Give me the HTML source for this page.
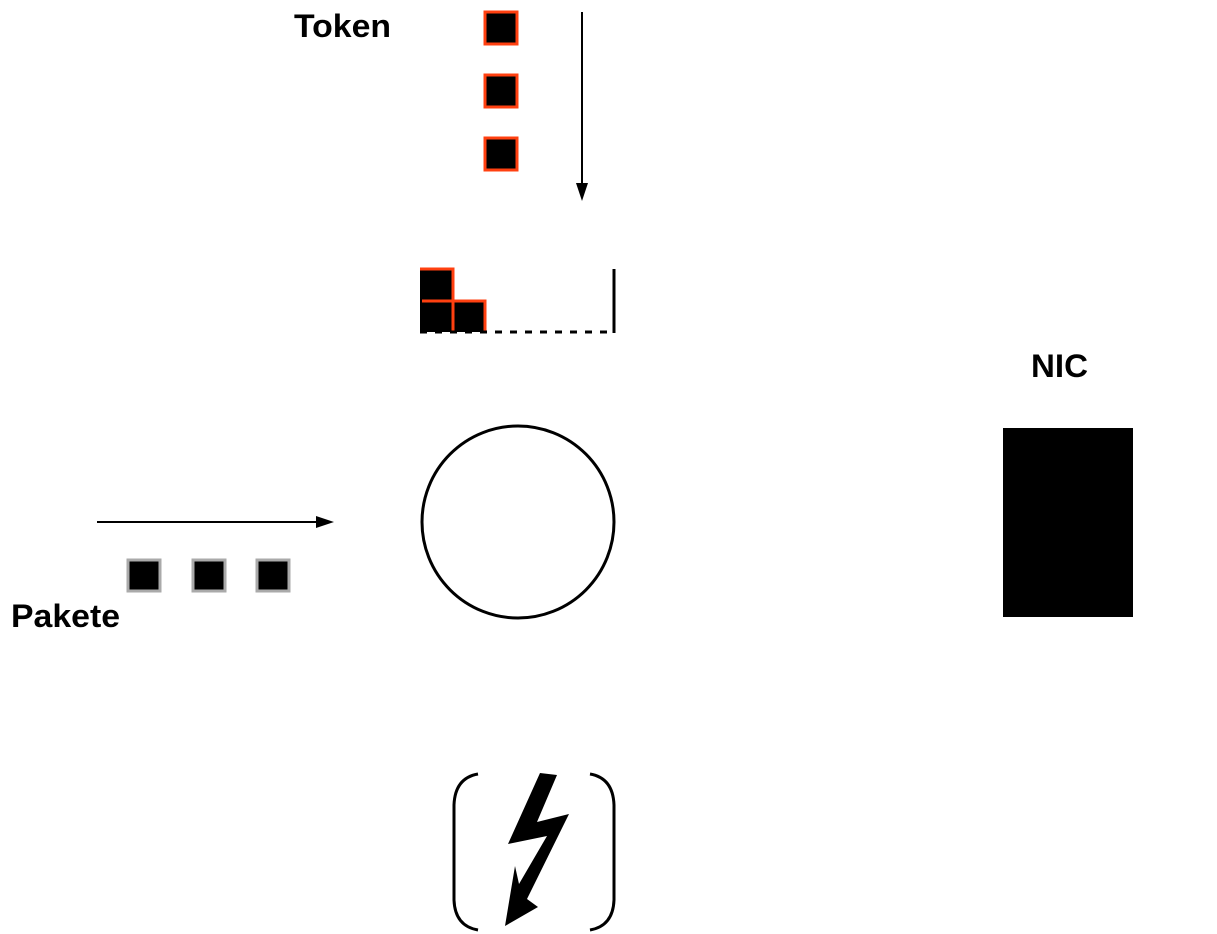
<!DOCTYPE html>
<html><head><meta charset="utf-8"><style>
html,body{margin:0;padding:0;background:#fff;}
svg{display:block;}
text{font-family:"Liberation Sans",sans-serif;font-weight:bold;font-size:32px;fill:#000;}
</style></head><body>
<svg width="1217" height="934" viewBox="0 0 1217 934">
<text x="294" y="37" textLength="97" lengthAdjust="spacingAndGlyphs">Token</text>
<rect x="485" y="12" width="32" height="32" fill="#000" stroke="#ff4010" stroke-width="3"/>
<rect x="485" y="75" width="32" height="32" fill="#000" stroke="#ff4010" stroke-width="3"/>
<rect x="485" y="138" width="32" height="32" fill="#000" stroke="#ff4010" stroke-width="3"/>
<g>
<line x1="582" y1="12" x2="582" y2="186" stroke="#000" stroke-width="2"/>
<polygon points="576,183 588,183 582,201" fill="#000"/>
</g>
<g>
<rect x="420" y="269" width="33" height="63" fill="#000"/>
<rect x="453" y="301" width="32" height="31" fill="#000"/>
<polyline points="420,269 453,269 453,332" fill="none" stroke="#ff4010" stroke-width="3"/>
<polyline points="422,301 485,301 485,332" fill="none" stroke="#ff4010" stroke-width="3"/>
<line x1="420" y1="332" x2="614" y2="332" stroke="#000" stroke-width="3" stroke-dasharray="7,8"/>
<line x1="614" y1="269" x2="614" y2="333" stroke="#000" stroke-width="3"/>
</g>
<circle cx="518" cy="522" r="96" fill="none" stroke="#000" stroke-width="3"/>
<g>
<line x1="97" y1="522" x2="320" y2="522" stroke="#000" stroke-width="2"/>
<polygon points="316,516 316,528 334,522" fill="#000"/>
</g>
<rect x="128" y="560" width="32" height="31" fill="#000" stroke="#aaa" stroke-width="3"/>
<rect x="193" y="560" width="32" height="31" fill="#000" stroke="#aaa" stroke-width="3"/>
<rect x="257" y="560" width="32" height="31" fill="#000" stroke="#aaa" stroke-width="3"/>
<text x="11" y="627" textLength="109" lengthAdjust="spacingAndGlyphs">Pakete</text>
<text x="1031" y="377" textLength="57" lengthAdjust="spacingAndGlyphs">NIC</text>
<rect x="1003" y="428" width="130" height="189" fill="#000"/>
<g>
<path d="M478,774 Q455,778 454,805 L454,900 Q455,926 478,930" fill="none" stroke="#000" stroke-width="3"/>
<path d="M590,774 Q613,778 614,805 L614,900 Q613,926 590,930" fill="none" stroke="#000" stroke-width="3"/>
<polygon points="540,773 557,775 537,822 569,814 527,899 538,907 505,926 515,866 519,884 547,836 508,844" fill="#000"/>
</g>
</svg>
</body></html>
